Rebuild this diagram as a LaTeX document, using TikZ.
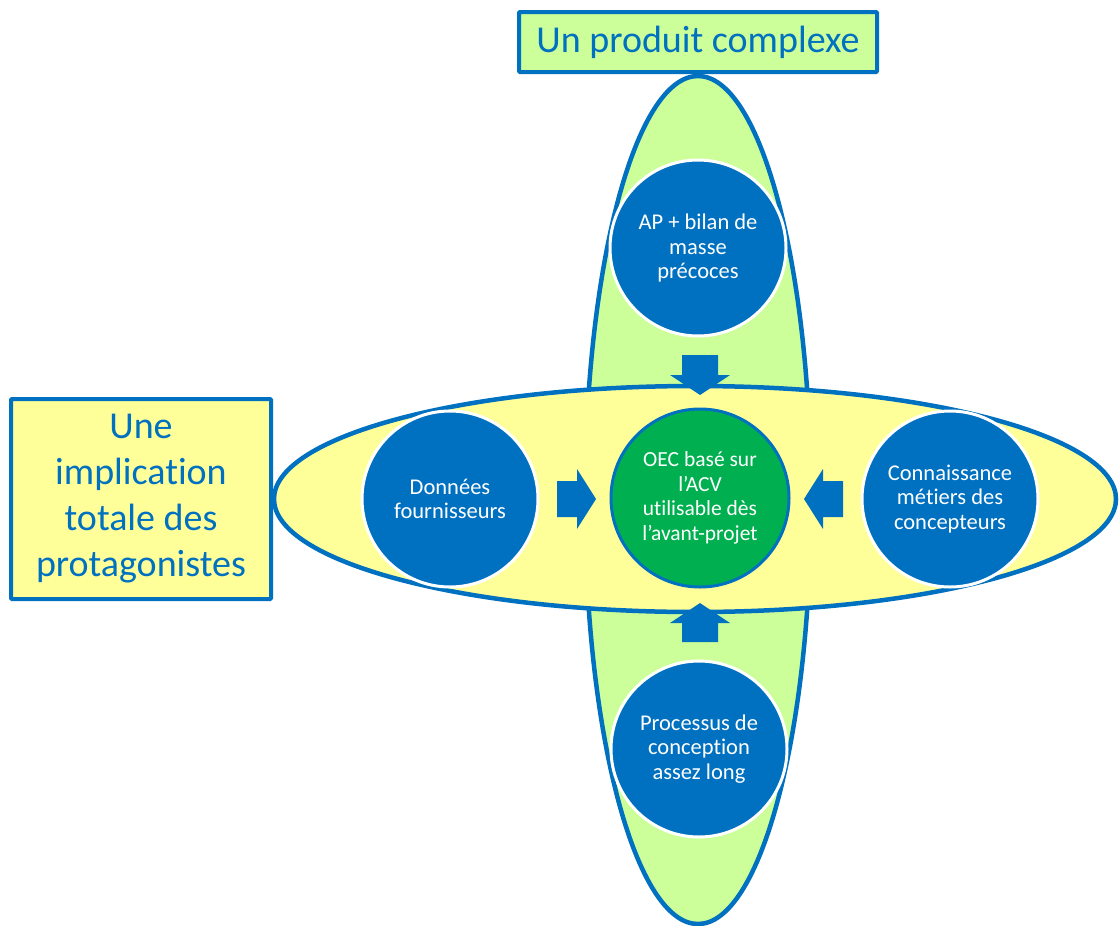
\documentclass[tikz,border=0pt]{standalone}
\usepackage{fontspec}
\setmainfont{Carlito}[Ligatures=NoCommon]
\definecolor{cblue}{HTML}{0070C0}
\definecolor{cgreen}{HTML}{00B050}
\definecolor{lgreen}{HTML}{CCFF99}
\definecolor{lyellow}{HTML}{FFFF99}
\tikzset{
  bubble/.style={circle, fill=cblue, draw=white, line width=3pt, minimum size=176pt, inner sep=0pt, align=center, text=white, font=\fontsize{22.5}{24.5}\selectfont},
  titlebox/.style={draw=cblue, line width=4pt, rounded corners=1pt, align=center, text=cblue, inner sep=0pt},
  blockarrow/.style={fill=cblue, draw=none}
}
\begin{document}
\begin{tikzpicture}[x=1pt,y=-1pt]
\useasboundingbox (0,0) rectangle (1119,926);
% ellipses
\draw[fill=lgreen, draw=cblue, line width=4.5pt] (698,500) ellipse [x radius=113, y radius=424];
\draw[fill=lyellow, draw=cblue, line width=4.5pt] (695,499) ellipse [x radius=421, y radius=113];
% boxes
\node[titlebox, fill=lgreen, minimum width=358pt, minimum height=60pt, font=\fontsize{38}{44}\selectfont] (top) at (698,42) {Un produit complexe};
\node[titlebox, fill=lyellow, minimum width=260pt, minimum height=200pt, font=\fontsize{38}{46}\selectfont] (left) at (141,499) {Une\\implication\\totale des\\protagonistes};
% circles
\node[bubble] (a) at (698,248) {AP + bilan de\\masse\\précoces};
\node[bubble] (b) at (450,499) {Données\\fournisseurs};
\node[bubble] (c) at (950,499) {Connaissance\\métiers des\\concepteurs};
\node[bubble] (d) at (699,749) {Processus de\\conception\\assez long};
\node[circle, fill=cgreen, draw=cblue, line width=3pt, minimum size=178pt, inner sep=0pt, align=center, text=white, font=\fontsize{21.5}{24.5}\selectfont] (o) at (700,498) {OEC basé sur\\l’ACV\\utilisable dès\\l’avant-projet};
% block arrows
\fill[blockarrow] (682,355) -- (718,355) -- (718,375) -- (730,375) -- (700,395) -- (670,375) -- (682,375) -- cycle;
\fill[blockarrow] (682,642) -- (718,642) -- (718,623) -- (730,623) -- (700,603) -- (670,623) -- (682,623) -- cycle;
\fill[blockarrow] (557,481) -- (557,517) -- (577,517) -- (577,529) -- (596,499) -- (577,469) -- (577,481) -- cycle;
\fill[blockarrow] (843,481) -- (843,517) -- (823,517) -- (823,529) -- (804,499) -- (823,469) -- (823,481) -- cycle;
\end{tikzpicture}
\end{document}
